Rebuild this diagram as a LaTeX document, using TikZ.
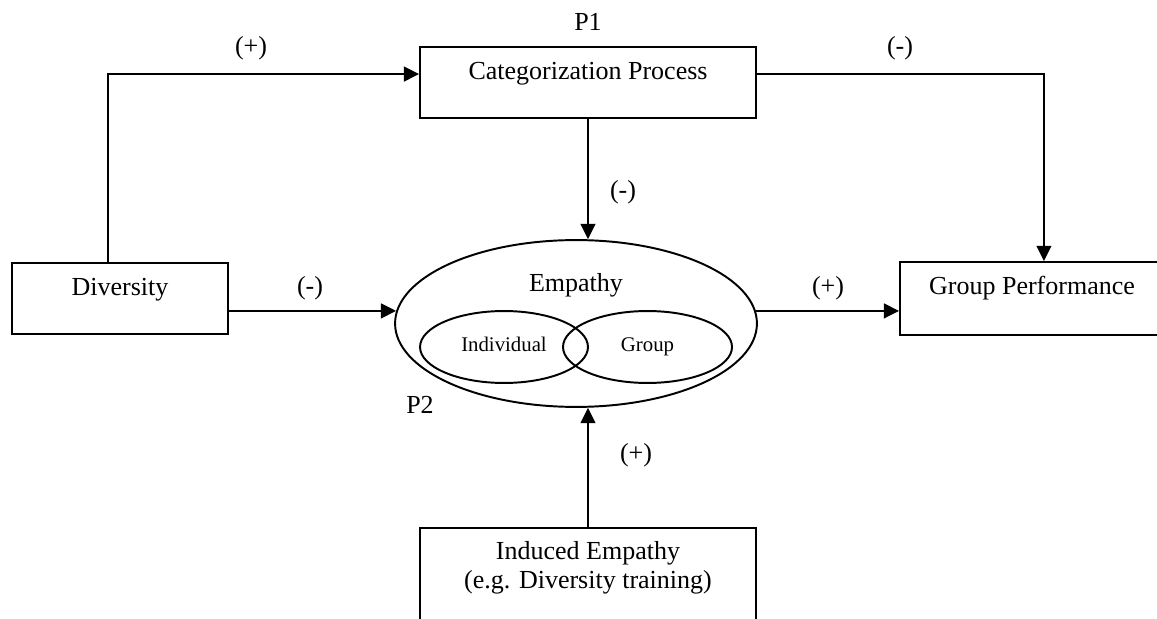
\documentclass[tikz,border=0pt]{standalone}
\usepackage{fontspec}
\setmainfont{Liberation Serif}
\usetikzlibrary{arrows.meta,shapes.geometric}

\tikzset{
  box/.style={draw,line width=0.9pt,inner sep=0pt,text height=14.8pt,text depth=18pt},
  oval/.style={draw,ellipse,line width=0.9pt,inner sep=0pt},
  small/.style={font=\fontsize{9.6}{11}\selectfont,text height=6.6pt,text depth=2.9pt},
  link/.style={line width=0.9pt,-{Triangle[length=7pt,width=6.8pt]}},
}

\begin{document}
\begin{tikzpicture}[x=0.4615pt,y=-0.4615pt,font=\fontsize{12}{13}\selectfont]
\path[use as bounding box,clip] (0,0) rectangle (1157,619);
% boxes
\node[box,minimum width=99.7pt] (div) at (120,298.5) {Diversity};
\node[box,minimum width=155pt] (cat) at (588,82.5) {Categorization Process};
\node[box,minimum width=121.8pt,text height=15.2pt,text depth=18.5pt] (gp) at (1032,298.5) {Group Performance};
\node[box,minimum width=155pt,align=center,text height=27.7pt,text depth=40pt,anchor=north] (ind) at (588,527) {Induced Empathy\\(e.g. Diversity training)};
% empathy
\node[oval,minimum width=167pt,minimum height=77pt] (emp) at (576,323.5) {};
\node (empl) at (576,285) {Empathy};
\node[oval,small,minimum width=77.5pt,minimum height=33.2pt] (indiv) at (504,347) {Individual};
\node[oval,small,minimum width=78pt,minimum height=33.2pt] (grp) at (647.5,347) {Group};
% arrows
\draw[link] ([xshift=-5.5pt]div.north) |- (cat.mid west);
\draw[link] (cat.south) -- (cat.south |- emp.north);
\draw[link] (cat.mid east) -| ([xshift=5.5pt]gp.north);
\draw[link] (div.east |- emp.176) -- (emp.176);
\draw[link] (emp.4) -- (emp.4 -| gp.west);
\draw[link] (ind.north) -- (ind.north |- emp.south);
% signs
\node (s1) at (251,48) {(+)};
\node (p1) at (588,22) {P1};
\node (s2) at (900,48) {(-)};
\node (s3) at (623,192) {(-)};
\node (s4) at (310,288) {(-)};
\node (s5) at (828,288) {(+)};
\node (p2) at (420,405) {P2};
\node (s6) at (636,455) {(+)};
\end{tikzpicture}
\end{document}
